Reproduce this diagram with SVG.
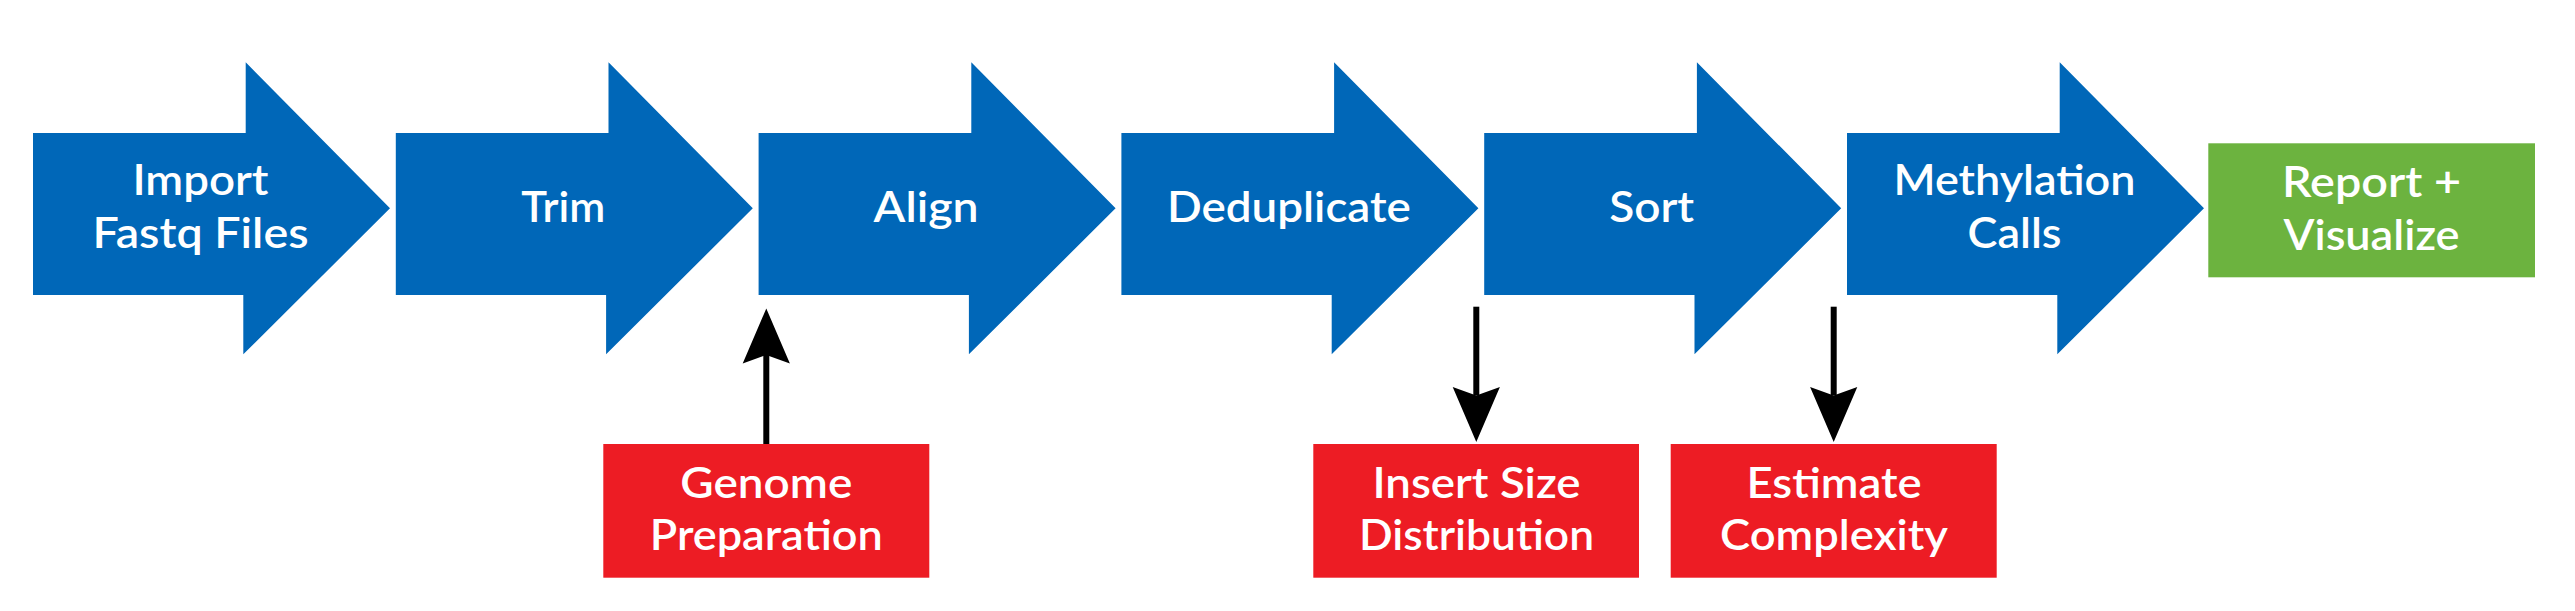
<svg xmlns="http://www.w3.org/2000/svg" xmlns:xlink="http://www.w3.org/1999/xlink" width="2575" height="611" viewBox="0 0 2575 611">
<style>
.lbl{font-family:Lato,"Open Sans","Liberation Sans",sans-serif;font-weight:600;font-size:42px;fill:#ffffff;text-anchor:middle}
.step{fill:#0067B8}
.side{fill:#ED1C24}
.final{fill:#6CB33F}
.conn{stroke:#000000;stroke-width:6;fill:none}
</style>
<defs>
<path id="chev" d="M0,133 H212.7 V62.3 L357,208.3 L210.3,354.3 V295 H0 Z"/>
<marker id="head" markerUnits="userSpaceOnUse" viewBox="-10 -25 60 50" markerWidth="60" markerHeight="50" refX="0" refY="0" orient="auto">
<path d="M46.6,0 L-8.4,-23.6 L0,0 L-8.4,23.6 Z" fill="#000000"/>
</marker>
</defs>
<rect width="2575" height="611" fill="#ffffff"/>
<g id="connectors">
<line class="conn" x1="766.3" y1="444" x2="766.3" y2="355" marker-end="url(#head)"/>
<line class="conn" x1="1476.3" y1="306.7" x2="1476.3" y2="395.5" marker-end="url(#head)"/>
<line class="conn" x1="1833.7" y1="306.7" x2="1833.7" y2="395.5" marker-end="url(#head)"/>
</g>
<g id="import">
<use xlink:href="#chev" href="#chev" class="step" x="33"/>
<text class="lbl" x="200.5" y="195" textLength="136" lengthAdjust="spacingAndGlyphs">Import</text>
<text class="lbl" x="200.5" y="248" textLength="216" lengthAdjust="spacingAndGlyphs">Fastq Files</text>
</g>
<g id="trim">
<use xlink:href="#chev" href="#chev" class="step" x="395.8"/>
<text class="lbl" x="563.3" y="222" textLength="84" lengthAdjust="spacingAndGlyphs">Trim</text>
</g>
<g id="align">
<use xlink:href="#chev" href="#chev" class="step" x="758.6"/>
<text class="lbl" x="926.1" y="222" textLength="105" lengthAdjust="spacingAndGlyphs">Align</text>
</g>
<g id="deduplicate">
<use xlink:href="#chev" href="#chev" class="step" x="1121.4"/>
<text class="lbl" x="1288.9" y="222" textLength="244" lengthAdjust="spacingAndGlyphs">Deduplicate</text>
</g>
<g id="sort">
<use xlink:href="#chev" href="#chev" class="step" x="1484.2"/>
<text class="lbl" x="1651.7" y="222" textLength="85" lengthAdjust="spacingAndGlyphs">Sort</text>
</g>
<g id="methylation">
<use xlink:href="#chev" href="#chev" class="step" x="1847"/>
<text class="lbl" x="2014.5" y="195" textLength="242" lengthAdjust="spacingAndGlyphs">Methylation</text>
<text class="lbl" x="2014.5" y="248" textLength="94" lengthAdjust="spacingAndGlyphs">Calls</text>
</g>
<g id="report">
<rect class="final" x="2208.3" y="143.3" width="326.7" height="134"/>
<text class="lbl" x="2371.5" y="196.7" textLength="179" lengthAdjust="spacingAndGlyphs">Report +</text>
<text class="lbl" x="2371.5" y="250" textLength="176" lengthAdjust="spacingAndGlyphs">Visualize</text>
</g>
<g id="genome">
<rect class="side" x="603.3" y="444" width="326" height="133.7"/>
<text class="lbl" x="766.3" y="498.3" textLength="172" lengthAdjust="spacingAndGlyphs">Genome</text>
<text class="lbl" x="766.3" y="550" textLength="233" lengthAdjust="spacingAndGlyphs">Preparation</text>
</g>
<g id="insertsize">
<rect class="side" x="1313.3" y="444" width="325.7" height="133.7"/>
<text class="lbl" x="1476.5" y="498.3" textLength="208" lengthAdjust="spacingAndGlyphs">Insert Size</text>
<text class="lbl" x="1476.5" y="550" textLength="235" lengthAdjust="spacingAndGlyphs">Distribution</text>
</g>
<g id="complexity">
<rect class="side" x="1670.7" y="444" width="326" height="133.7"/>
<text class="lbl" x="1834" y="498.3" textLength="175" lengthAdjust="spacingAndGlyphs">Estimate</text>
<text class="lbl" x="1834" y="550" textLength="228" lengthAdjust="spacingAndGlyphs">Complexity</text>
</g>
</svg>
